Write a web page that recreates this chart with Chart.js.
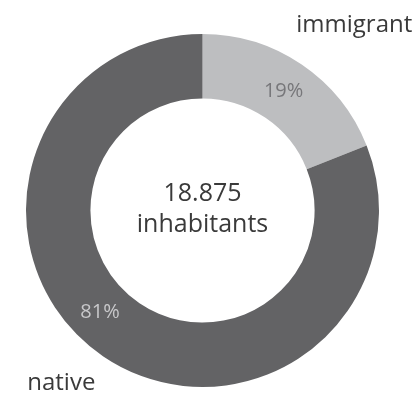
<!DOCTYPE html>
<html>
<head>
<meta charset="utf-8">
<script src="https://cdn.jsdelivr.net/npm/chart.js@4/dist/chart.umd.min.js"></script>
<style>
html,body{margin:0;padding:0;background:#fff;}
#wrap{width:418px;height:394px;position:relative;}
</style>
</head>
<body>
<div id="wrap"><canvas id="c" width="418" height="394"></canvas></div>
<script>
const categories = ["immigrant", "native"];
const shares = [19, 81];
const totalLabel = ["18.875", "inhabitants"];
const colors = ["#bdbec0", "#636365"];
const pctColors = ["#77777a", "#c8c8ca"];

const FONT = "'Open Sans', 'Noto Sans', sans-serif";

const labelPlugin = {
  id: 'labels',
  afterDatasetsDraw(chart) {
    const ctx = chart.ctx;
    const meta = chart.getDatasetMeta(0);
    ctx.save();
    ctx.textAlign = 'center';
    ctx.textBaseline = 'middle';
    // percentage labels
    const fracs = [0.5, 0.538];
    meta.data.forEach((arc, i) => {
      const p = arc.getProps(['x','y','startAngle','endAngle','innerRadius','outerRadius'], true);
      const a = p.startAngle + (p.endAngle - p.startAngle) * fracs[i];
      const r = (p.innerRadius + p.outerRadius) / 2;
      ctx.fillStyle = pctColors[i];
      ctx.font = "20px " + FONT;
      ctx.fillText(shares[i] + "%", p.x + Math.cos(a) * r, p.y + Math.sin(a) * r);
    });
    // center text
    const c = meta.data[0].getProps(['x','y','outerRadius'], true);
    ctx.fillStyle = '#3a3a3a';
    ctx.font = "25px " + FONT;
    ctx.fillText(totalLabel[0], c.x, c.y - 17);
    ctx.fillText(totalLabel[1], c.x, c.y + 14);
    // category labels
    ctx.font = "24px " + FONT;
    ctx.fillText(categories[0], c.x + c.outerRadius * 0.86, c.y - c.outerRadius * 1.05);
    ctx.fillText(categories[1], c.x - c.outerRadius * 0.8, c.y + c.outerRadius * 0.98);
    ctx.restore();
  }
};

new Chart(document.getElementById('c'), {
  type: 'doughnut',
  data: {
    labels: categories,
    datasets: [{
      data: shares,
      backgroundColor: colors,
      borderWidth: 0
    }]
  },
  options: {
    responsive: false,
    animation: false,
    cutout: '63.5%',
    layout: { padding: { left: 26, right: 39, top: 34, bottom: 7 } },
    plugins: { legend: { display: false }, tooltip: { enabled: false } }
  },
  plugins: [labelPlugin]
});
</script>
</body>
</html>
